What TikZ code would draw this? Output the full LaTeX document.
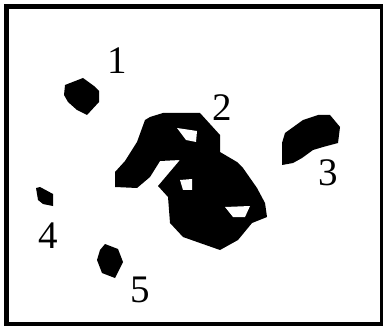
\documentclass[tikz,border=0pt]{standalone}
\usepackage{fontspec}
\setmainfont{Liberation Serif}
\usetikzlibrary{calc}

\tikzset{
  blob/.style={fill=black,draw=none},
  hole/.style={fill=white,draw=none},
  num/.style={inner sep=0pt,font=\fontsize{39}{39}\selectfont}
}

\begin{document}
\begin{tikzpicture}[x=1pt,y=-1pt]
\useasboundingbox (0,0) rectangle (383,326);
\coordinate (F0) at (6.5,6.5);
\draw[line width=5pt] (F0) rectangle ($(F0)+(376,318)$);
% region 1
\fill[blob] (65,85) -- (83,78) -- (94,86) -- (99,91) -- (99,102) -- (87,115)
  -- (77,110) -- (68,102) -- (64,95) -- cycle;
% region 2
\fill[blob] (145,120) -- (150,117) -- (163,113) -- (200,113) -- (220,135)
  -- (220,152) -- (237,162) -- (243,168) -- (257,188) -- (265,203)
  -- (267,217) -- (252,223) -- (238,240) -- (220,250) -- (200,243)
  -- (183,237) -- (170,223) -- (168,197) -- (158,186) -- (180,160)
  -- (160,161) -- (150,177) -- (137,188) -- (115,187) -- (115,172)
  -- (125,161) -- (137,142) -- cycle;
\fill[hole] (177,128) -- (197,131) -- (196,142) -- (186,140) -- cycle;
\fill[hole] (180,180) -- (192,179) -- (192,190) -- (183,190) -- cycle;
\fill[hole] (225,207) -- (250,206) -- (245,217) -- (233,217) -- cycle;
% region 3
\fill[blob] (282,165) -- (282,143) -- (285,133) -- (303,120) -- (318,115)
  -- (330,115) -- (340,127) -- (338,143) -- (323,147) -- (313,150)
  -- (302,158) -- (293,163) -- cycle;
% region 4
\fill[blob] (36,188) -- (40,187) -- (53,194) -- (53,206) -- (43,204)
  -- (38,200) -- cycle;
% region 5
\fill[blob] (105,244) -- (118,249) -- (123,262) -- (115,278) -- (102,273)
  -- (97,260) -- (100,250) -- cycle;
% labels
\node[num] (N1) at (117,61) {1};
\node[num] (N2) at (222,108) {2};
\node[num] (N3) at (328,173) {3};
\node[num] (N4) at (48,236) {4};
\node[num] (N5) at (140,290) {5};
\end{tikzpicture}
\end{document}
